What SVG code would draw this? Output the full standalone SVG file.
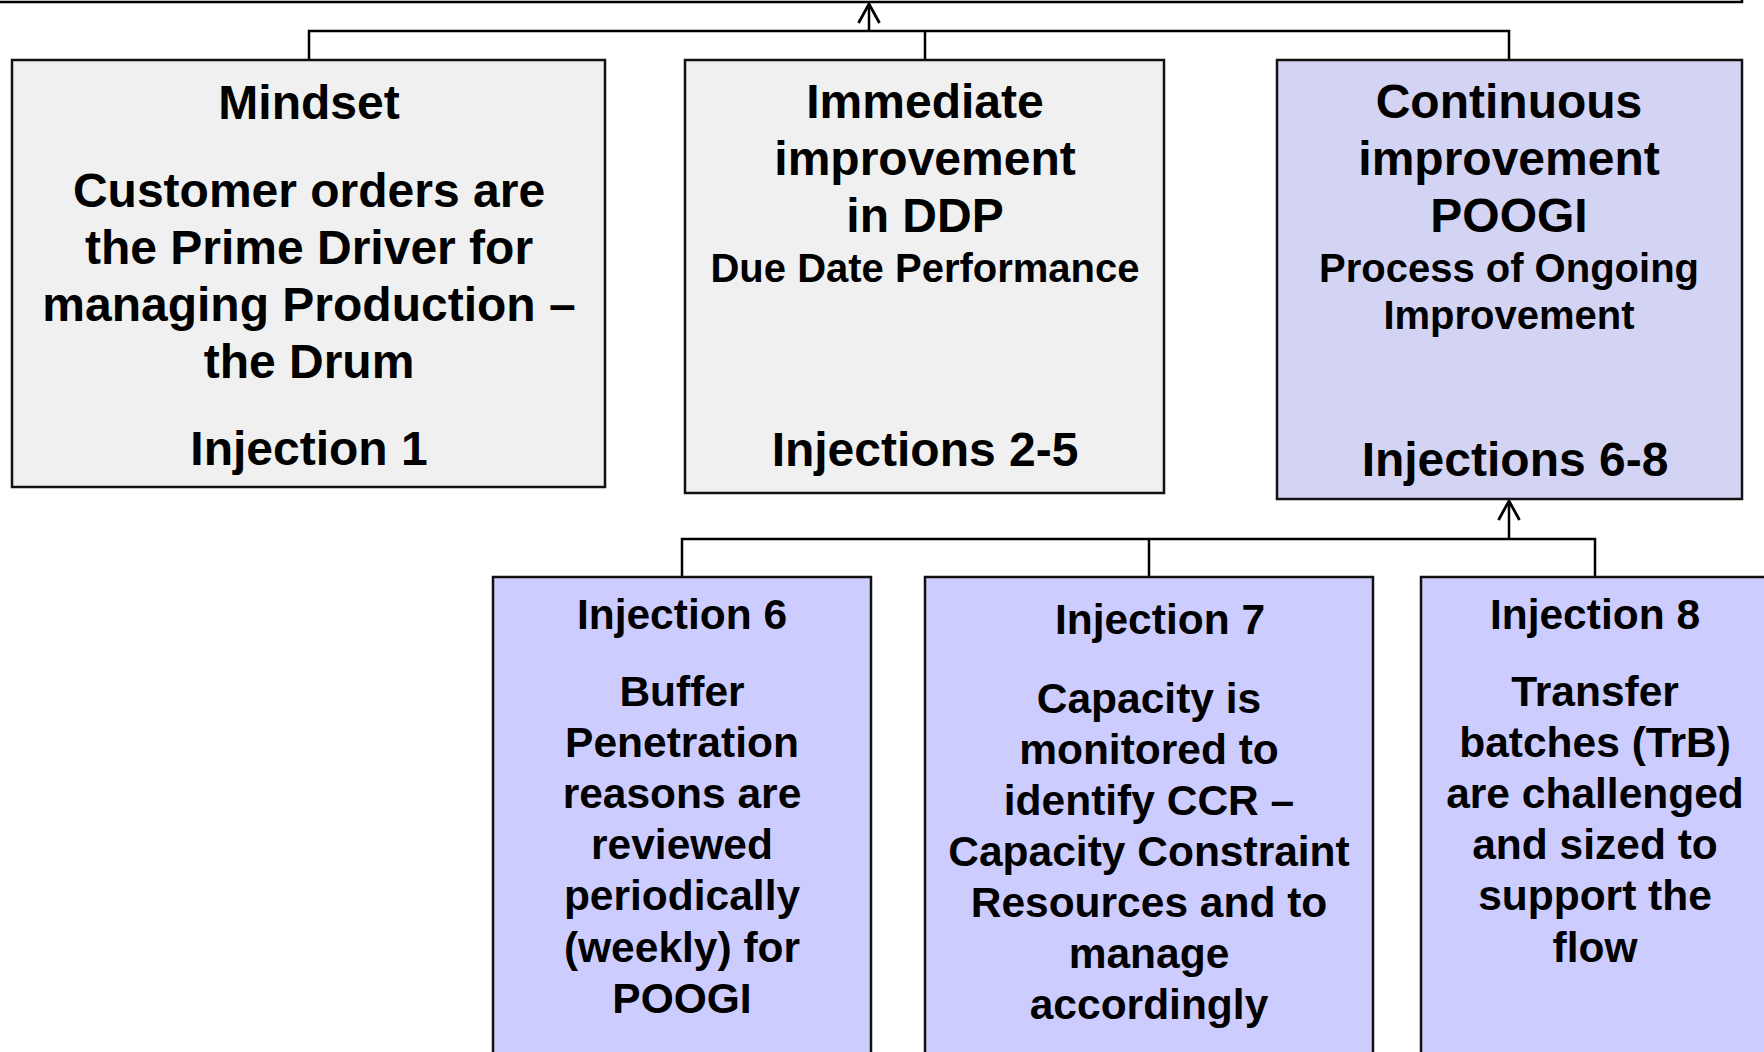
<svg xmlns="http://www.w3.org/2000/svg" width="1764" height="1052" viewBox="0 0 1764 1052">
  <style>
    .box { stroke: #111; stroke-width: 2.5; }
    .grey { fill: #f0f0f0; }
    .lav { fill: #d3d3f3; }
    .inj { fill: #ccccff; }
    .t { font-family: "Liberation Sans", Arial, sans-serif; font-weight: bold; fill: #000; text-anchor: middle; }
    .big { font-size: 48px; }
    .mid { font-size: 40px; }
    .sm { font-size: 42.5px; }
    .wire { fill: none; stroke: #000; stroke-width: 2.5; }
  </style>
  <defs>
    <!-- open V arrowhead, drawn pointing along +x -->
    <marker id="arr" viewBox="0 0 22 24" refX="20" refY="12" markerWidth="22" markerHeight="24" markerUnits="userSpaceOnUse" orient="auto">
      <path d="M1,1.5 L20,12 L1,22.5" fill="none" stroke="#000" stroke-width="2.8"/>
    </marker>
  </defs>

  <!-- parent box, only its lower edge is in view -->
  <g id="parent">
    <path d="M-5,2 L1742,2 L1742,-10" class="wire" stroke-width="3"/>
  </g>

  <!-- connectors -->
  <g id="connectors">
    <path class="wire" d="M309,60 V31 H1509 V60"/>
    <path class="wire" d="M925,31 V60"/>
    <line class="wire" x1="869" y1="31" x2="869" y2="4" marker-end="url(#arr)"/>
    <path class="wire" d="M682,577 V539 H1595 V577"/>
    <path class="wire" d="M1149,539 V577"/>
    <line class="wire" x1="1509" y1="539" x2="1509" y2="501" marker-end="url(#arr)"/>
  </g>

  <g id="mindset">
    <rect class="box grey" x="12" y="60" width="593" height="427"/>
    <text class="t big" x="309" y="119">Mindset</text>
    <text class="t big" x="309" y="207">Customer orders are</text>
    <text class="t big" x="309" y="264">the Prime Driver for</text>
    <text class="t big" x="309" y="321">managing Production –</text>
    <text class="t big" x="309" y="378">the Drum</text>
    <text class="t big" x="309" y="465">Injection 1</text>
  </g>

  <g id="immediate">
    <rect class="box grey" x="685" y="60" width="479" height="433"/>
    <text class="t big" x="925" y="118">Immediate</text>
    <text class="t big" x="925" y="175">improvement</text>
    <text class="t big" x="925" y="232">in DDP</text>
    <text class="t mid" x="925" y="282">Due Date Performance</text>
    <text class="t big" x="925" y="466">Injections 2-5</text>
  </g>

  <g id="continuous">
    <rect class="box lav" x="1277" y="60" width="465" height="439"/>
    <text class="t big" x="1509" y="118">Continuous</text>
    <text class="t big" x="1509" y="175">improvement</text>
    <text class="t big" x="1509" y="232">POOGI</text>
    <text class="t mid" x="1509" y="282">Process of Ongoing</text>
    <text class="t mid" x="1509" y="329">Improvement</text>
    <text class="t big" x="1515" y="476">Injections 6-8</text>
  </g>

  <g id="injection6">
    <rect class="box inj" x="493" y="577" width="378" height="477"/>
    <text class="t sm" x="682" y="629">Injection 6</text>
    <text class="t sm" x="682" y="706">Buffer</text>
    <text class="t sm" x="682" y="757">Penetration</text>
    <text class="t sm" x="682" y="808">reasons are</text>
    <text class="t sm" x="682" y="859">reviewed</text>
    <text class="t sm" x="682" y="910">periodically</text>
    <text class="t sm" x="682" y="962">(weekly) for</text>
    <text class="t sm" x="682" y="1013">POOGI</text>
  </g>

  <g id="injection7">
    <rect class="box inj" x="925" y="577" width="448" height="477"/>
    <text class="t sm" x="1160" y="634">Injection 7</text>
    <text class="t sm" x="1149" y="713">Capacity is</text>
    <text class="t sm" x="1149" y="764">monitored to</text>
    <text class="t sm" x="1149" y="815">identify CCR –</text>
    <text class="t sm" x="1149" y="866">Capacity Constraint</text>
    <text class="t sm" x="1149" y="917">Resources and to</text>
    <text class="t sm" x="1149" y="968">manage</text>
    <text class="t sm" x="1149" y="1019">accordingly</text>
  </g>

  <g id="injection8">
    <rect class="box inj" x="1421" y="577" width="360" height="477"/>
    <text class="t sm" x="1595" y="629">Injection 8</text>
    <text class="t sm" x="1595" y="706">Transfer</text>
    <text class="t sm" x="1595" y="757">batches (TrB)</text>
    <text class="t sm" x="1595" y="808">are challenged</text>
    <text class="t sm" x="1595" y="859">and sized to</text>
    <text class="t sm" x="1595" y="910">support the</text>
    <text class="t sm" x="1595" y="962">flow</text>
  </g>
</svg>
